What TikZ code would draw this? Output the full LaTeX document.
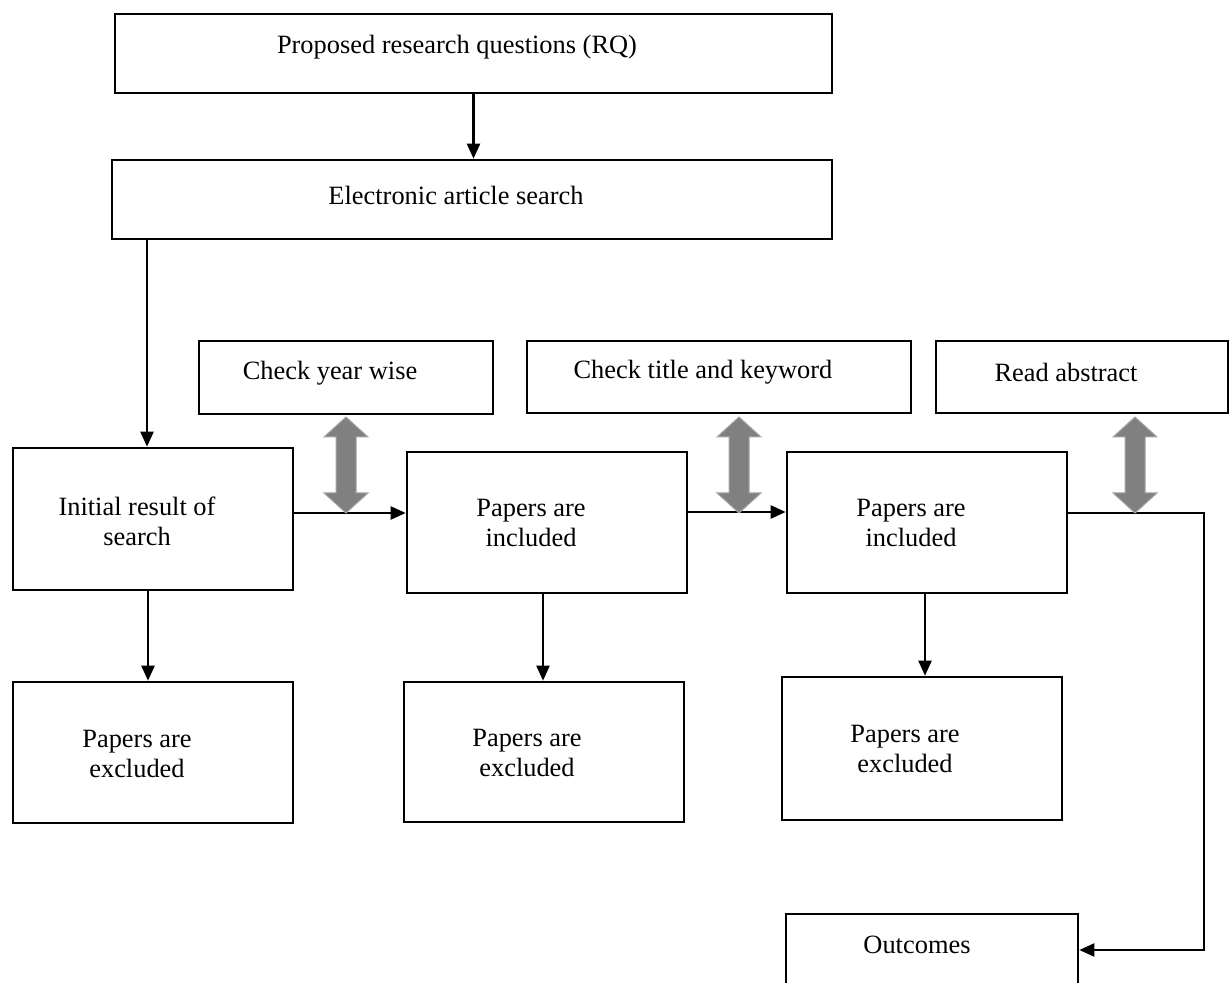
\documentclass[tikz,border=0pt]{standalone}
\usepackage{fontspec}
\setmainfont{Liberation Serif}
\usetikzlibrary{arrows.meta}
\definecolor{garrow}{RGB}{128,128,128}
\definecolor{garrowedge}{RGB}{165,165,165}
\tikzset{
  box/.style={draw=black, line width=1.3pt, rectangle, inner sep=0pt, fill=white},
  txt/.style={inner sep=0pt, align=center, font=\fontsize{13.2pt}{15pt}\selectfont},
  arr/.style={draw=black, line width=1.1pt, -{Triangle[length=7.5pt,width=6.5pt]}},
  gdarrow/.pic={
    \filldraw[fill=garrow, draw=garrowedge, line width=0.5pt]
      (-10,20) -- (-22,20) -- (0,0) -- (22,20) -- (10,20) -- (10,76)
      -- (22,76) -- (0,96) -- (-22,76) -- (-10,76) -- cycle;
  }
}
\begin{document}
\begin{tikzpicture}[x=0.5pt,y=-0.5pt]
\clip (0,0) rectangle (1232,983);
\fill[white] (0,0) rectangle (1232,983);

% boxes
\node[box, minimum width=358.5pt, minimum height=39.5pt] (rq) at (473.5,53.5) {};
\node[box, minimum width=360pt, minimum height=39.5pt] (es) at (472,199.5) {};
\node[box, minimum width=140pt, minimum height=71pt] (ini) at (153,519) {};
\node[box, minimum width=147pt, minimum height=36.5pt] (cy) at (346,377.5) {};
\node[box, minimum width=192pt, minimum height=36pt] (ct) at (719,377) {};
\node[box, minimum width=146pt, minimum height=36pt] (ra) at (1082,377) {};
\node[box, minimum width=140pt, minimum height=70.5pt] (inc1) at (547,522.5) {};
\node[box, minimum width=140pt, minimum height=70.5pt] (inc2) at (927,522.5) {};
\node[box, minimum width=140pt, minimum height=70.5pt] (exc1) at (153,752.5) {};
\node[box, minimum width=140pt, minimum height=70pt] (exc2) at (544,752) {};
\node[box, minimum width=140pt, minimum height=71.5pt] (exc3) at (922,748.5) {};
\node[box, minimum width=146pt, minimum height=43pt] (out) at (932,957) {};

% texts
\node[txt] (trq) at (457,47) {Proposed research questions (RQ)};
\node[txt] (tes) at (456,195) {Electronic article search};
\node[txt] (tini) at (137,521) {Initial result of\\search};
\node[txt] (tcy) at (330,373) {Check year wise};
\node[txt] (tct) at (703,372) {Check title and keyword};
\node[txt] (tra) at (1066,372) {Read abstract};
\node[txt] (tinc1) at (531,523) {Papers are\\included};
\node[txt] (tinc2) at (911,523) {Papers are\\included};
\node[txt] (texc1) at (137,754) {Papers are\\excluded};
\node[txt] (texc2) at (527,753) {Papers are\\excluded};
\node[txt] (texc3) at (905,749) {Papers are\\excluded};
\node[txt] (tout) at (917,945) {Outcomes};

% connectors
\draw[arr] (rq.south) -- (rq.south |- es.north);
\draw[arr] ([xshift=-3pt]ini.north |- es.south) -- ([xshift=-3pt]ini.north);
\draw[arr] ([yshift=3pt]ini.east) -- ([yshift=3pt]ini.east -| inc1.west);
\draw[arr] ([yshift=5.25pt]inc1.east) -- ([yshift=5.25pt]inc1.east -| inc2.west);
\coordinate (bend) at (1204,513);
\draw[arr] ([yshift=4.75pt]inc2.east) -- (bend) |- ([yshift=3.5pt]out.east);
\draw[arr] ([xshift=-2.5pt]ini.south) -- ([xshift=-2.5pt]ini.south |- exc1.north);
\draw[arr] ([xshift=-2pt]inc1.south) -- ([xshift=-2pt]inc1.south |- exc2.north);
\draw[arr] ([xshift=-1pt]inc2.south) -- ([xshift=-1pt]inc2.south |- exc3.north);

% grey double arrows
\pic at (346,417) {gdarrow};
\pic at (739,417) {gdarrow};
\pic at (1135,417) {gdarrow};
\end{tikzpicture}
\end{document}
